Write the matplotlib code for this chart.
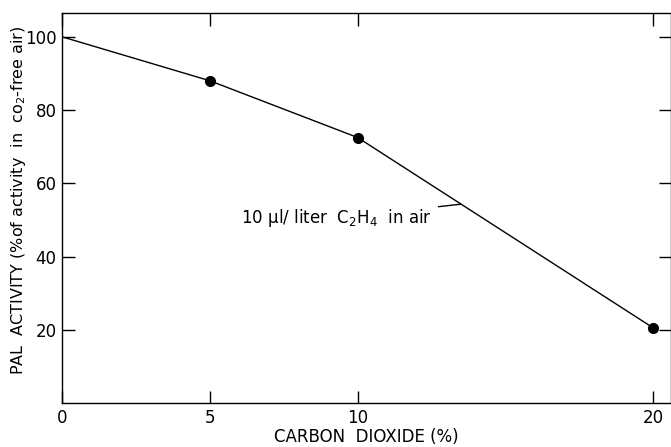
import matplotlib.pyplot as plt

# PAL activity vs CO2 concentration, 10 ul/liter ethylene in air
co2 = [0, 5, 10, 20]
activity = [100, 88, 72.5, 20.5]
xticks = [0, 5, 10, 20]
yticks = [20, 40, 60, 80, 100]

plt.rcParams['font.family'] = ['DejaVu Sans']

fig = plt.figure(figsize=(6.71, 4.47), dpi=100)
ax = fig.add_axes([62 / 671, 44 / 447, 1.0 - 62 / 671, 390 / 447])

ax.plot(co2, activity, color='black', linewidth=1.0)
ax.plot(co2[1:], activity[1:], 'o', color='black', markersize=7)

ax.set_xlim(0, 20.6)
ax.set_ylim(0, 106.5)
ax.set_xticks(xticks)
ax.set_yticks(yticks)
ax.set_xticklabels([str(t) for t in xticks], fontsize=12)
ax.set_yticklabels([str(t) for t in yticks], fontsize=12)
ax.tick_params(direction='in', length=9, width=1.0, top=True, right=True,
               pad=4, colors='black')
for s in ax.spines.values():
    s.set_linewidth(1.0)

ax.set_xlabel('CARBON  DIOXIDE (%)', fontsize=12, labelpad=1)
ax.set_ylabel('PAL  ACTIVITY (%of activity  in  co$_2$-free air)',
              fontsize=11.5)
ax.yaxis.set_label_coords(-0.056, 0.52)

# label with a short leader line touching the curve
ax.annotate('10 µl/ liter  C$_2$H$_4$  in air', xy=(13.5, 54.3),
            xytext=(12.5, 50.5), fontsize=12, ha='right', va='center',
            arrowprops=dict(arrowstyle='-', color='black', linewidth=1.0,
                            shrinkA=3, shrinkB=0))

fig.savefig('out.png', dpi=100)
